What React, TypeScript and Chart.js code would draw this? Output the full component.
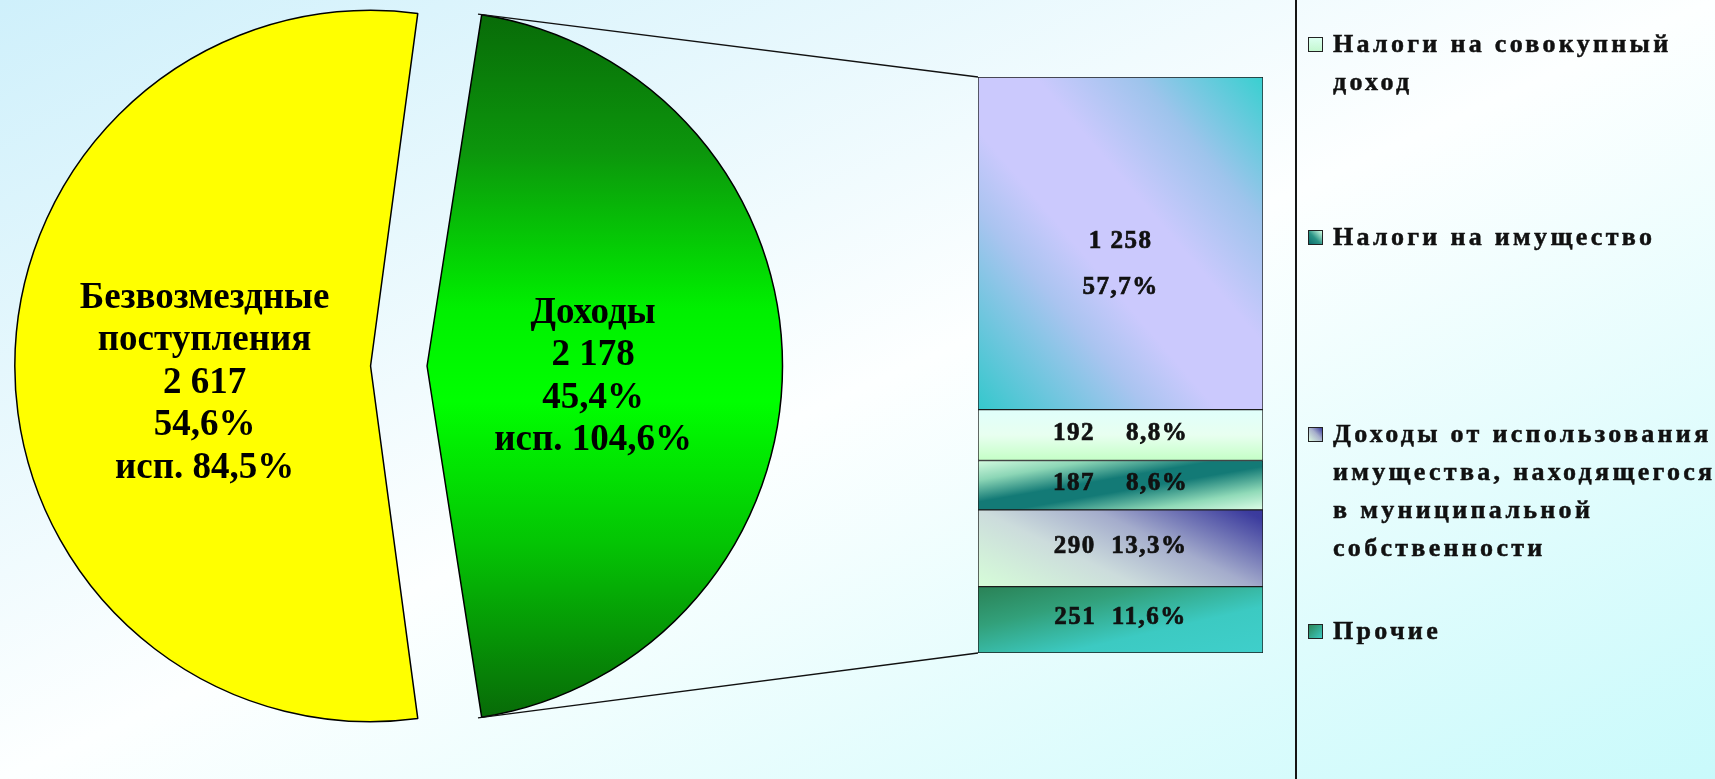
import React, { useEffect, useRef } from 'react';
import { Chart, registerables } from 'chart.js';

Chart.register(...registerables);

// ---------- data ----------
const pieNameLines: string[][] = [['Безвозмездные', 'поступления'], ['Доходы']];
const pieValues: number[] = [2617, 2178];
const piePercents: number[] = [54.6, 45.4];
const pieExecution: number[] = [84.5, 104.6];

// bar segments, listed from top to bottom
const barNameLines: string[][] = [
  ['Налог на доходы физических лиц'],
  ['Налоги на совокупный', 'доход'],
  ['Налоги на имущество'],
  ['Доходы от использования', 'имущества, находящегося', 'в муниципальной', 'собственности'],
  ['Прочие'],
];
const barValues: number[] = [1258, 192, 187, 290, 251];
const barPercents: number[] = [57.7, 8.8, 8.6, 13.3, 11.6];
const barInLegend: boolean[] = [false, true, true, true, true];

// ---------- layout / style ----------
const W = 1715;
const H = 779;
const SERIF = '"Liberation Serif", "Times New Roman", serif';
const PIE_CX = 394.3;
const PIE_CY = 366;
const PIE_RADIUS = 332;
const PIE_OFFSETS = [95, 131];
const PIE_LABEL_SHIFT = [17, 11];
const BAR_LEFT = 978;
const BAR_RIGHT = 1263;
const BAR_TOP = 77;
const BAR_BOTTOM = 653;
const LEGEND_TOPS = [25, 218, 415, 612];

const fmtNum = (v: number) => String(Math.round(v)).replace(/\B(?=(\d{3})+(?!\d))/g, ' ');
const fmtPct = (p: number) => p.toFixed(1).replace('.', ',') + '%';

type Pts = (w: number, h: number) => [number, number, number, number];
const diagBand: Pts = (w, h) => {
  const L2 = w * w + h * h;
  const a = (h * h) / L2;
  const b = (w * w) / L2;
  return [0.5 - a, 0.5 + b, 0.5 + a, 0.5 - b];
};
const antiBand: Pts = (w, h) => {
  const L2 = w * w + h * h;
  const a = (h * h) / L2;
  const b = (w * w) / L2;
  return [0.5 - a, 0.5 - b, 0.5 + a, 0.5 + b];
};

const segStyles: { pts: Pts; stops: [number, string][]; swatch: string }[] = [
  {
    pts: diagBand,
    stops: [[0, '#34c8cc'], [0.3, '#aac4f0'], [0.42, '#cbc9fd'], [0.6, '#cbc9fd'], [0.78, '#9ec4ec'], [1, '#38d0d0']],
    swatch: 'linear-gradient(135deg, #cbc9fd, #3cd2d0)',
  },
  {
    pts: () => [0, 0, 0, 1],
    stops: [[0, '#e0fffb'], [0.5, '#e8fff0'], [1, '#c4ffc6']],
    swatch: 'linear-gradient(180deg, #dcfff0, #c4f8d0)',
  },
  {
    pts: antiBand,
    stops: [[0, '#d4fbe0'], [0.2, '#8cd6b6'], [0.42, '#137a76'], [0.56, '#137a76'], [0.8, '#90dab8'], [1, '#defee8']],
    swatch: 'linear-gradient(45deg, #0c6c6c 0%, #2a9486 45%, #d4ffe4 100%)',
  },
  {
    pts: () => [0, 1, 0.3, -1.34],
    stops: [[0, '#d6fdd8'], [0.35, '#ccdcdc'], [0.6, '#a4accc'], [0.92, '#3c3c9e'], [1, '#36369a']],
    swatch: 'linear-gradient(45deg, #dcf8e0 0%, #a8b0cc 55%, #3a3a9c 100%)',
  },
  {
    pts: antiBand,
    stops: [[0, '#2a8256'], [0.3, '#32a07a'], [0.65, '#3ccac2'], [1, '#3fcfcb']],
    swatch: 'linear-gradient(135deg, #2c8658, #3ccac2)',
  },
];

const barTotal = barValues.reduce((s, v) => s + v, 0);
const pieTotal = pieValues.reduce((s, v) => s + v, 0);
// bottom-to-top order for Chart.js stacking
const stackOrder = barValues.map((_, i) => i).reverse();

function segGradient(chart: any, idx: number) {
  const { chartArea, scales } = chart;
  if (!chartArea || !scales || !scales.y) return segStyles[idx].stops[0][1];
  let below = 0;
  for (let k = idx + 1; k < barValues.length; k++) below += barValues[k];
  const yB = scales.y.getPixelForValue(below);
  const yT = scales.y.getPixelForValue(below + barValues[idx]);
  const x0 = chartArea.left;
  const w = chartArea.right - chartArea.left;
  const h = yB - yT;
  const [fx0, fy0, fx1, fy1] = segStyles[idx].pts(w, h);
  const g = chart.ctx.createLinearGradient(x0 + fx0 * w, yT + fy0 * h, x0 + fx1 * w, yT + fy1 * h);
  segStyles[idx].stops.forEach(([o, c]) => g.addColorStop(o, c));
  return g;
}

function greenGradient(chart: any) {
  const { chartArea } = chart;
  if (!chartArea) return '#00cc00';
  const cy = (chartArea.top + chartArea.bottom) / 2;
  const r = PIE_RADIUS + 24;
  const g = chart.ctx.createLinearGradient(0, cy - r, 0, cy + r);
  g.addColorStop(0, '#086a08');
  g.addColorStop(0.2, '#0c960c');
  g.addColorStop(0.42, '#00f000');
  g.addColorStop(0.55, '#00ff00');
  g.addColorStop(0.75, '#04c404');
  g.addColorStop(1, '#086808');
  return g;
}

const pieLabelPlugin = {
  id: 'pieLabels',
  afterDatasetsDraw(chart: any) {
    const ctx = chart.ctx;
    const meta = chart.getDatasetMeta(0);
    ctx.save();
    ctx.font = `bold 37px ${SERIF}`;
    ctx.fillStyle = '#000';
    ctx.textAlign = 'center';
    ctx.textBaseline = 'middle';
    meta.data.forEach((el: any, i: number) => {
      const off = (el.options.offset || 0) / 4;
      const mid = (el.startAngle + el.endAngle) / 2;
      const d = off + el.outerRadius * 0.5;
      const cx = el.x + Math.cos(mid) * d;
      const cy = el.y + Math.sin(mid) * d + PIE_LABEL_SHIFT[i];
      const lines = [
        ...pieNameLines[i],
        fmtNum(pieValues[i]),
        fmtPct(piePercents[i]),
        'исп. ' + fmtPct(pieExecution[i]),
      ];
      const lh = 42.5;
      const y0 = cy - ((lines.length - 1) * lh) / 2;
      lines.forEach((t, k) => ctx.fillText(t, cx, y0 + k * lh));
    });
    ctx.restore();
  },
};

function makeBarPlugins(pie: Chart) {
  const connector = {
    id: 'connector',
    beforeDatasetsDraw(chart: any) {
      const pmeta = pie.getDatasetMeta(0);
      const el: any = pmeta.data[1];
      if (!el) return;
      const off = (el.options.offset || 0) / 4;
      const mid = (el.startAngle + el.endAngle) / 2;
      const circ = el.endAngle - el.startAngle;
      const fix = 1 - Math.sin(Math.min(Math.PI, circ));
      const r = el.outerRadius + off * fix;
      const cx = el.x + Math.cos(mid) * off;
      const cy = el.y + Math.sin(mid) * off;
      const p1 = [cx + r * Math.cos(el.startAngle), cy + r * Math.sin(el.startAngle)];
      const p2 = [cx + r * Math.cos(el.endAngle), cy + r * Math.sin(el.endAngle)];
      const n = chart.data.datasets.length;
      const topEl: any = chart.getDatasetMeta(n - 1).data[0];
      const botEl: any = chart.getDatasetMeta(0).data[0];
      const ctx = chart.ctx;
      ctx.save();
      ctx.strokeStyle = '#111';
      ctx.lineWidth = 1.3;
      ctx.beginPath();
      ctx.moveTo(p1[0], p1[1]);
      ctx.lineTo(topEl.x - topEl.width / 2, topEl.y);
      ctx.moveTo(p2[0], p2[1]);
      ctx.lineTo(botEl.x - botEl.width / 2, botEl.base);
      ctx.stroke();
      ctx.restore();
    },
  };
  const labels = {
    id: 'barLabels',
    afterDatasetsDraw(chart: any) {
      const ctx = chart.ctx;
      ctx.save();
      ctx.font = `bold 25px ${SERIF}`;
      (ctx as any).letterSpacing = '1.5px';
      ctx.fillStyle = '#111';
      ctx.strokeStyle = '#111';
      ctx.lineWidth = 0.7;
      ctx.textAlign = 'center';
      ctx.textBaseline = 'middle';
      const put = (t: string, x: number, y: number) => {
        ctx.fillText(t, x, y);
        ctx.strokeText(t, x, y);
      };
      chart.data.datasets.forEach((_: any, d: number) => {
        const i = stackOrder[d];
        const el: any = chart.getDatasetMeta(d).data[0];
        if (!el) return;
        const yc = (el.y + el.base) / 2;
        if (el.base - el.y > 100) {
          put(fmtNum(barValues[i]), el.x, yc - 2);
          put(fmtPct(barPercents[i]), el.x, yc + 44);
        } else {
          const gap = barPercents[i] < 10 ? '    ' : '  ';
          put(fmtNum(barValues[i]) + gap + fmtPct(barPercents[i]), el.x, yc - 2);
        }
      });
      ctx.restore();
    },
  };
  return [connector, labels];
}

export default function App() {
  const pieRef = useRef<HTMLCanvasElement>(null);
  const barRef = useRef<HTMLCanvasElement>(null);

  useEffect(() => {
    const pie = new Chart(pieRef.current as HTMLCanvasElement, {
      type: 'pie',
      data: {
        labels: pieNameLines.map((l) => l.join(' ')),
        datasets: [
          {
            data: pieValues,
            backgroundColor: (c: any) => (c.dataIndex === 0 ? '#ffff00' : greenGradient(c.chart)),
            borderColor: '#000',
            borderWidth: 1.5,
            offset: PIE_OFFSETS,
          } as any,
        ],
      },
      options: {
        responsive: false,
        animation: false,
        rotation: 90 + (180 * pieValues[1]) / pieTotal,
        radius: PIE_RADIUS,
        layout: { padding: { left: 0, top: 0, right: W - 2 * PIE_CX, bottom: H - 2 * PIE_CY } },
        plugins: { legend: { display: false }, tooltip: { enabled: false } },
      } as any,
      plugins: [pieLabelPlugin],
    });

    const bar = new Chart(barRef.current as HTMLCanvasElement, {
      type: 'bar',
      data: {
        labels: ['Доходы'],
        datasets: stackOrder.map((i) => ({
          label: barNameLines[i].join(' '),
          data: [barValues[i]],
          backgroundColor: (c: any) => segGradient(c.chart, i),
          borderColor: '#1c1c1c',
          borderWidth: 1,
          borderSkipped: false,
          barPercentage: 1,
          categoryPercentage: 1,
        })) as any,
      },
      options: {
        responsive: false,
        animation: false,
        layout: { padding: { left: BAR_LEFT, right: W - BAR_RIGHT, top: BAR_TOP, bottom: H - BAR_BOTTOM } },
        scales: {
          x: { display: false, stacked: true },
          y: { display: false, stacked: true, min: 0, max: barTotal },
        },
        plugins: { legend: { display: false }, tooltip: { enabled: false } },
      },
      plugins: makeBarPlugins(pie) as any,
    });

    return () => {
      bar.destroy();
      pie.destroy();
    };
  }, []);

  const legendIdx = barValues.map((_, i) => i).filter((i) => barInLegend[i]);

  return (
    <div
      style={{
        position: 'fixed',
        left: 0,
        top: 0,
        width: W,
        height: H,
        overflow: 'hidden',
        background: 'linear-gradient(to bottom right, #cff0fb 0%, #fdffff 50%, #c9fafb 100%)',
      }}
    >
      <canvas ref={pieRef} width={W} height={H} style={{ position: 'absolute', left: 0, top: 0, width: W, height: H }} />
      <canvas ref={barRef} width={W} height={H} style={{ position: 'absolute', left: 0, top: 0, width: W, height: H }} />
      <div style={{ position: 'absolute', left: 1295, top: 0, width: 2, height: H, background: '#151515' }} />
      {legendIdx.map((i, k) => (
        <div key={i} style={{ position: 'absolute', left: 1308, top: LEGEND_TOPS[k], width: 420 }}>
          <div
            style={{
              position: 'absolute',
              left: 0,
              top: 12,
              width: 13,
              height: 13,
              border: '1px solid #222',
              background: segStyles[i].swatch,
            }}
          />
          <div
            style={{
              position: 'absolute',
              left: 25,
              top: 0,
              font: `bold 26px ${SERIF}`,
              lineHeight: '38px',
              letterSpacing: '3.3px',
              color: '#111',
              whiteSpace: 'nowrap',
              WebkitTextStroke: '0.5px #111',
            }}
          >
            {barNameLines[i].map((t, j) => (
              <div key={j}>{t}</div>
            ))}
          </div>
        </div>
      ))}
    </div>
  );
}
